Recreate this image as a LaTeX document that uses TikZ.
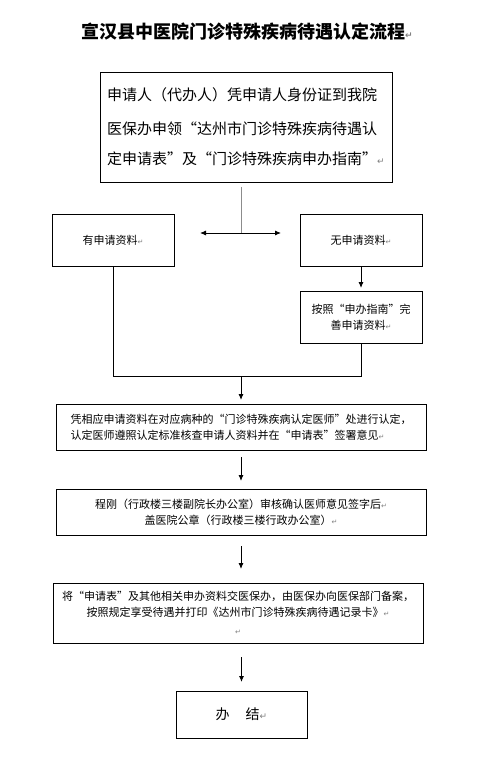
\documentclass[tikz,border=0pt]{standalone}
\usepackage{fontspec}
\setmainfont{Noto Sans CJK SC}
\newfontfamily\symfont{DejaVu Sans}
\usetikzlibrary{arrows.meta,calc}
\newcommand{\pmk}[1][7pt]{{\symfont\fontsize{#1}{#1}\selectfont\color{gray}↵}}
\newcommand{\oqq}{\makebox[1em][r]{“}}
\newcommand{\cqq}{\makebox[1em][l]{”}}
\tikzset{
  box/.style={draw=black, line width=0.9pt, inner sep=0pt, outer sep=0pt},
  arr/.style={draw=black, line width=0.9pt, -{Latex[length=6pt,width=5pt]}},
  ln/.style={draw=black, line width=0.9pt},
  small/.style={font=\fontsize{11pt}{16pt}\selectfont}
}
\begin{document}
\begin{tikzpicture}[x=1pt,y=-1pt]
\useasboundingbox[fill=white] (0,0) rectangle (482,767);
% title
\node (title) at (247,32) {\fontsize{18pt}{20pt}\selectfont\bfseries 宣汉县中医院门诊特殊疾病待遇认定流程\pmk[9pt]};
% top box
\node[box, minimum width=292pt, minimum height=110pt, align=left,
      font=\fontsize{15pt}{18pt}\selectfont] (top) at (246,127)
  {申请人（代办人）凭申请人身份证到我院\\[16pt]医保办申领\oqq 达州市门诊特殊疾病待遇认\\[12pt]定申请表\cqq 及\oqq 门诊特殊疾病申办指南\cqq\pmk[9pt]};
% branches
\node[box, small, minimum width=122pt, minimum height=52pt] (left) at (113,240) {有申请资料\pmk};
\node[box, small, minimum width=122pt, minimum height=52pt] (right) at (361,240) {无申请资料\pmk};
\node[box, small, minimum width=122pt, minimum height=52pt, align=center] (right2) at (361,317) {按照\oqq 申办指南\cqq 完\\善申请资料\pmk};
% middle boxes
\node[box, small, minimum width=370pt, minimum height=46pt, align=left] (b4) at (241,427)
  {凭相应申请资料在对应病种的\oqq 门诊特殊疾病认定医师\cqq 处进行认定，\\认定医师遵照认定标准核查申请人资料并在\oqq 申请表\cqq 签署意见\pmk};
\node[box, small, minimum width=370pt, minimum height=46pt, align=center] (b5) at (241,512)
  {程刚（行政楼三楼副院长办公室）审核确认医师意见签字后\pmk\\盖医院公章（行政楼三楼行政办公室）\pmk};
\node[box, small, minimum width=370pt, minimum height=60pt, align=center] (b6) at (238,613)
  {将\oqq 申请表\cqq 及其他相关申办资料交医保办，由医保办向医保部门备案，\\按照规定享受待遇并打印《达州市门诊特殊疾病待遇记录卡》\pmk\\[2pt]\pmk};
\node[box, minimum width=131pt, minimum height=47pt, font=\fontsize{14pt}{16pt}\selectfont] (fin) at (241.5,714.5)
  {办\hspace{16pt}结\pmk[9pt]};
% connectors
\coordinate (gtop) at (241,187);
\coordinate (split) at (241,233);
\coordinate (la) at (200,233);
\coordinate (ra) at (281,233);
\draw[draw=gray!90, line width=1pt] (gtop) -- (split);
\draw[arr] (split) -- (la);
\draw[arr] (split) -- (ra);
\draw[arr, shorten >=3pt] (right) -- (right2);
\coordinate (jl) at (113,376);
\coordinate (jr) at (361,376);
\coordinate (jm) at (241,376);
\draw[ln] (left.south) -- (jl) -- (jr) -- (right2.south);
\draw[arr, shorten >=4pt] (jm) -- (b4.north -| jm);
\draw[arr, shorten <=7pt, shorten >=8pt] (b4) -- (b5);
\draw[arr, shorten <=11pt, shorten >=14pt] (b5.south) -- (b5.south |- b6.north);
\draw[arr, shorten <=14pt, shorten >=9pt] (fin.north |- b6.south) -- (fin.north);
\end{tikzpicture}
\end{document}
